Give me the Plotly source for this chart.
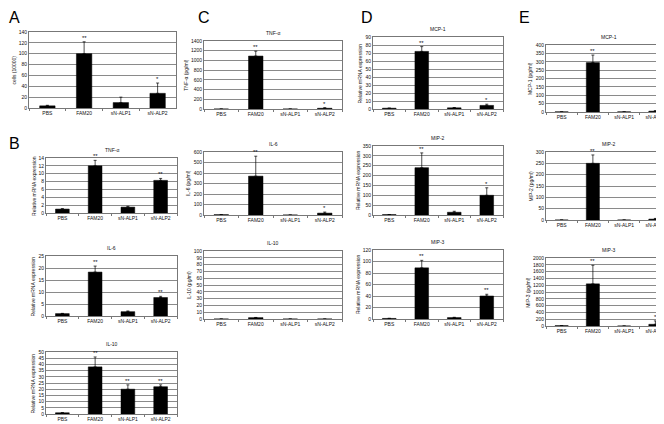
import plotly.graph_objects as go

W, H = 664, 424
categories = ["PBS", "FAM20", "sN-ALP1", "sN-ALP2"]

# Panel A
a_cells = [4, 100, 10, 27]
a_cells_err = [1, 22, 10, 19]
a_cells_sig = ["", "**", "", "*"]
# Panel B (relative mRNA)
b_tnf = [1, 12, 1.5, 8.3]
b_tnf_err = [0.1, 1.4, 0.2, 0.5]
b_tnf_sig = ["", "**", "", "**"]
b_il6 = [1, 18.3, 1.8, 7.7]
b_il6_err = [0.1, 2.5, 0.3, 0.5]
b_il6_sig = ["", "**", "", "**"]
b_il10 = [1, 38, 20, 22]
b_il10_err = [0.1, 8, 3.5, 1.5]
b_il10_sig = ["", "**", "**", "**"]
# Panel C (pg/ml)
c_tnf = [0, 1090, 0, 15]
c_tnf_err = [0, 100, 0, 12]
c_tnf_sig = ["", "**", "", "*"]
c_il6 = [3, 370, 0, 18]
c_il6_err = [1, 190, 0, 10]
c_il6_sig = ["", "**", "", "*"]
c_il10 = [0, 2, 0, 0]
c_il10_err = [0, 0.3, 0, 0]
c_il10_sig = ["", "", "", ""]
# Panel D (relative mRNA)
d_mcp1 = [1, 72, 1.5, 4.5]
d_mcp1_err = [0.1, 6, 0.3, 1.5]
d_mcp1_sig = ["", "**", "", "*"]
d_mip2 = [2, 240, 14, 100]
d_mip2_err = [0.5, 75, 5, 38]
d_mip2_sig = ["", "**", "", "*"]
d_mip3 = [1, 89, 2.5, 40]
d_mip3_err = [0.2, 13, 0.5, 3]
d_mip3_sig = ["", "**", "", "**"]
# Panel E (pg/ml)
e_mcp1 = [1, 295, 1, 5]
e_mcp1_err = [0, 45, 0, 3]
e_mcp1_sig = ["", "**", "", ""]
e_mip2 = [0, 250, 0, 4]
e_mip2_err = [0, 37, 0, 3]
e_mip2_sig = ["", "**", "", ""]
e_mip3 = [10, 1240, 0, 50]
e_mip3_err = [0, 545, 0, 100]
e_mip3_sig = ["", "**", "", "*"]

FONT = "Liberation Sans, Arial, sans-serif"

# (values, err, sig, title, ytitle, ymax, dtick, x0, x1, ytop, ybot)
panels = [
    (a_cells, a_cells_err, a_cells_sig, "", "cells (10000)", 140, 20, 21, 168, 24, 100),
    (b_tnf, b_tnf_err, b_tnf_sig, "TNF-α", "Relative mRNA expression", 14, 2, 38, 169, 150, 205),
    (b_il6, b_il6_err, b_il6_sig, "IL-6", "Relative mRNA expression", 25, 5, 38, 169, 248, 308),
    (b_il10, b_il10_err, b_il10_sig, "IL-10", "Relative mRNA expression", 50, 5, 38, 169, 344, 406),
    (c_tnf, c_tnf_err, c_tnf_sig, "TNF-α", "TNF-α (pg/ml)", 1400, 200, 196, 334, 33, 101),
    (c_il6, c_il6_err, c_il6_sig, "IL-6", "IL-6 (pg/ml)", 600, 100, 196, 334, 144, 207),
    (c_il10, c_il10_err, c_il10_sig, "IL-10", "IL-10 (pg/ml)", 100, 10, 196, 334, 243, 311),
    (d_mcp1, d_mcp1_err, d_mcp1_sig, "MCP-1", "Relative mRNA expression", 90, 10, 365, 495, 29, 101),
    (d_mip2, d_mip2_err, d_mip2_sig, "MIP-2", "Relative mRNA expression", 350, 50, 365, 495, 138, 207),
    (d_mip3, d_mip3_err, d_mip3_sig, "MIP-3", "Relative mRNA expression", 120, 20, 365, 495, 242, 311),
    (e_mcp1, e_mcp1_err, e_mcp1_sig, "MCP-1", "MCP-1 (pg/ml)", 400, 50, 538, 663, 37, 104),
    (e_mip2, e_mip2_err, e_mip2_sig, "MIP-2", "MIP-2 (pg/ml)", 300, 50, 538, 663, 144, 212),
    (e_mip3, e_mip3_err, e_mip3_sig, "MIP-3", "MIP-3 (pg/ml)", 2000, 200, 538, 663, 250, 318),
]

fig = go.Figure()
annotations = []
layout_axes = {}
for i, (vals, err, sig, title, ytitle, ymax, dtick, x0, x1, ytop, ybot) in enumerate(panels, start=1):
    xa = "x" if i == 1 else f"x{i}"
    ya = "y" if i == 1 else f"y{i}"
    fig.add_trace(go.Bar(
        x=categories, y=vals, xaxis=xa, yaxis=ya,
        marker=dict(color="black", line=dict(color="black", width=0.5)),
        width=0.42,
        error_y=dict(type="data", array=err, arrayminus=[0] * len(err), symmetric=False,
                     color="black", thickness=0.7, width=1.5),
        showlegend=False, hoverinfo="x+y",
    ))
    layout_axes["xaxis" if i == 1 else f"xaxis{i}"] = dict(
        domain=[x0 / W, x1 / W], anchor=ya, type="category", automargin=False,
        showline=True, linecolor="#777", linewidth=0.8, mirror=True,
        showgrid=False, ticks="outside", tickson="boundaries", ticklen=2,
        tickcolor="#777", tickwidth=0.6,
        tickfont=dict(family=FONT, size=5, color="#111"), fixedrange=True,
    )
    layout_axes["yaxis" if i == 1 else f"yaxis{i}"] = dict(
        domain=[1 - ybot / H, 1 - ytop / H], anchor=xa, automargin=False,
        range=[0, ymax], dtick=dtick, tick0=0,
        showline=True, linecolor="#777", linewidth=0.8, mirror=True,
        showgrid=True, gridcolor="#8a8a8a", gridwidth=0.6, zeroline=False,
        ticks="", tickfont=dict(family=FONT, size=5, color="#111"),
        fixedrange=True,
    )
    nchar = len(str(ymax))
    tx = x0 - 3 - nchar * 2.8 - 4
    annotations.append(dict(
        text=ytitle, xref="paper", yref="paper", textangle=-90,
        x=tx / W, y=1 - (ytop + ybot) / 2 / H,
        xanchor="center", yanchor="middle", showarrow=False,
        font=dict(family=FONT, size=5, color="#111"),
    ))
    if title:
        annotations.append(dict(
            text=title, xref="paper", yref="paper",
            x=(x0 + x1) / 2 / W, y=1 - (ytop - 8) / H,
            xanchor="center", yanchor="middle", showarrow=False,
            font=dict(family=FONT, size=5, color="#111"),
        ))
    for c, v, e, s in zip(categories, vals, err, sig):
        if s:
            annotations.append(dict(
                text=s, xref=xa, yref=ya, x=c, y=v + e,
                xanchor="center", yanchor="bottom", yshift=-1, showarrow=False,
                font=dict(family=FONT, size=6, color="#111"),
            ))

letters = [("A", 0, 0), ("B", 0, 126), ("C", 189, 0), ("D", 352, 0), ("E", 510, 0)]
for t, px, py in letters:
    annotations.append(dict(
        text=t, xref="paper", yref="paper", x=px / W, y=1 - py / H,
        xanchor="left", yanchor="top", showarrow=False, borderpad=0,
        font=dict(family=FONT, size=16, color="black"),
    ))

fig.update_layout(
    template="none",
    width=W, height=H, margin=dict(l=0, r=0, t=0, b=0, autoexpand=False),
    paper_bgcolor="white", plot_bgcolor="white",
    bargap=0.5, annotations=annotations, **layout_axes,
)

fig.write_html("out.html")
